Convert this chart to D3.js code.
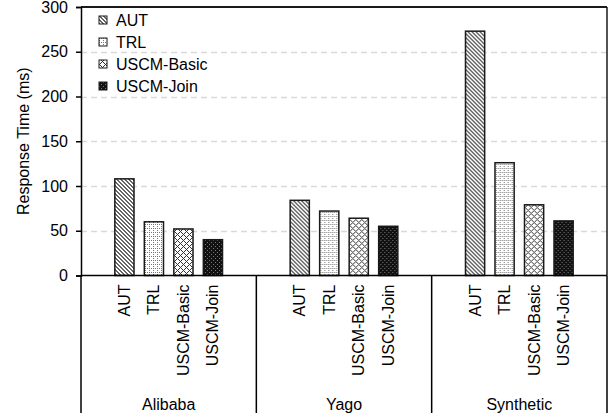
<!DOCTYPE html>
<html><head><meta charset="utf-8">
<script src="https://cdn.jsdelivr.net/npm/d3@7"></script>
<style>body{margin:0;background:#fff}svg{display:block}text{font-family:"Liberation Sans",Arial,sans-serif;fill:#000}</style>
</head><body><svg id="c" width="616" height="419"></svg>
<script>
const categories = ["Alibaba", "Yago", "Synthetic"];
const seriesNames = ["AUT", "TRL", "USCM-Basic", "USCM-Join"];
const AUT = [108, 84, 273];
const TRL = [60, 72, 126];
const USCMBasic = [52, 64, 79];
const USCMJoin = [40, 55, 61];
const yTicks = [0, 50, 100, 150, 200, 250, 300];
const seriesValues = [AUT, TRL, USCMBasic, USCMJoin];

const svg = d3.select("#c");
const L = 81, R = 607, T = 7, B = 275.5, axisBottom = 413;
const fs = 16;

// patterns
const defs = svg.append("defs");
function pat(id, size, bg, fg, pts) {
  const p = defs.append("pattern").attr("id", id).attr("patternUnits", "userSpaceOnUse")
    .attr("width", size).attr("height", size);
  p.append("rect").attr("width", size).attr("height", size).attr("fill", bg);
  pts.forEach(([x, y]) => p.append("rect").attr("x", x).attr("y", y).attr("width", 1).attr("height", 1).attr("fill", fg));
}
// AUT: downward diagonal
{ const pts = []; for (let y = 0; y < 4; y++) { pts.push([y % 4, y]); pts.push([(y + 1) % 4, y]); } pat("pAUT", 4, "#fff", "#666", pts); }
// TRL: light dotted grid
pat("pTRL", 4, "#fff", "#777", [[0,0],[2,0],[0,2]]);
// USCM-Basic: diagonal cross
{ const pts = []; for (let i = 0; i < 6; i++) { pts.push([i, i]); pts.push([(6 - i) % 6, i]); } pat("pBasic", 6, "#fff", "#333", pts); }
// USCM-Join: dark with light dots
pat("pJoin", 4, "#111", "#777", [[0,0],[2,2]]);
const fills = ["url(#pAUT)", "url(#pTRL)", "url(#pBasic)", "url(#pJoin)"];

const y = d3.scaleLinear().domain([0, 300]).range([B, T]);
const x0 = d3.scaleBand().domain(categories).range([L, R]).paddingInner(0).paddingOuter(0);
const bw = x0.bandwidth();
const x1 = d3.scaleBand().domain(seriesNames).range([bw / 2 - 59, bw / 2 + 59]).paddingInner(0.35).paddingOuter(0.175);

// gridlines
svg.append("g").selectAll("line").data(yTicks.filter(d => d > 0 && d < 300)).join("line")
  .attr("x1", L).attr("x2", R).attr("y1", d => Math.round(y(d)) + 0.5).attr("y2", d => Math.round(y(d)) + 0.5)
  .attr("stroke", "#d9d9d9").attr("stroke-width", 1.5).attr("stroke-dasharray", "6,4");

// bars
const groups = svg.append("g").selectAll("g").data(categories).join("g")
  .attr("transform", d => `translate(${x0(d)},0)`);
groups.selectAll("rect").data((c, ci) => seriesNames.map((s, si) => ({ s, si, v: seriesValues[si][ci] }))).join("rect")
  .attr("x", d => x1(d.s)).attr("width", x1.bandwidth())
  .attr("y", d => y(d.v)).attr("height", d => B - y(d.v))
  .attr("fill", d => fills[d.si]).attr("stroke", "#1a1a1a").attr("stroke-width", 1.5);

// frame top & right
svg.append("line").attr("x1", L).attr("x2", R).attr("y1", T).attr("y2", T).attr("stroke", "#1a1a1a").attr("stroke-width", 2);
svg.append("line").attr("x1", R).attr("x2", R).attr("y1", T).attr("y2", B).attr("stroke", "#1a1a1a").attr("stroke-width", 1.5);

// y axis
const yAxis = d3.axisLeft(y).tickValues(yTicks).tickSize(5).tickPadding(8).tickFormat(d3.format("d"));
const ga = svg.append("g").attr("transform", `translate(${L},0)`).call(yAxis);
ga.select(".domain").attr("stroke", "#000").attr("stroke-width", 1.5);
ga.selectAll(".tick line").attr("stroke", "#000").attr("stroke-width", 1.5);
ga.selectAll(".tick text").style("font-size", fs + "px").style("font-family", '"Liberation Sans", Arial, sans-serif').attr("fill", "#000");

// y title
svg.append("text").attr("transform", `translate(23,${(T + B) / 2}) rotate(-90)`)
  .attr("text-anchor", "middle").attr("dominant-baseline", "central").style("font-size", fs + "px").text("Response Time (ms)");

// x axis baseline and separators
svg.append("line").attr("x1", L).attr("x2", R).attr("y1", B).attr("y2", B).attr("stroke", "#000").attr("stroke-width", 1.5);
const seps = categories.map(c => x0(c)).concat([R]);
svg.append("g").selectAll("line").data(seps).join("line")
  .attr("x1", d => d).attr("x2", d => d).attr("y1", B).attr("y2", axisBottom)
  .attr("stroke", "#000").attr("stroke-width", 1.5);

// series labels under bars
groups.selectAll("text.sl").data(seriesNames).join("text").attr("class", "sl")
  .attr("transform", s => `translate(${x1(s) + x1.bandwidth() / 2},${B + 9}) rotate(-90)`)
  .attr("text-anchor", "end").attr("dominant-baseline", "central").style("font-size", fs + "px").text(s => s);

// group labels
groups.append("text").attr("x", bw / 2).attr("y", 410).attr("text-anchor", "middle").style("font-size", fs + "px").text(d => d);

// legend
const lg = svg.append("g").selectAll("g").data(seriesNames).join("g")
  .attr("transform", (d, i) => `translate(99,${20 + i * 22})`);
lg.append("rect").attr("x", 0).attr("y", -4).attr("width", 8).attr("height", 8)
  .attr("fill", (d, i) => fills[i]).attr("stroke", "#1a1a1a").attr("stroke-width", 1);
lg.append("text").attr("x", 17).attr("y", 0).attr("dominant-baseline", "central").style("font-size", fs + "px").text(d => d);
</script></body></html>
